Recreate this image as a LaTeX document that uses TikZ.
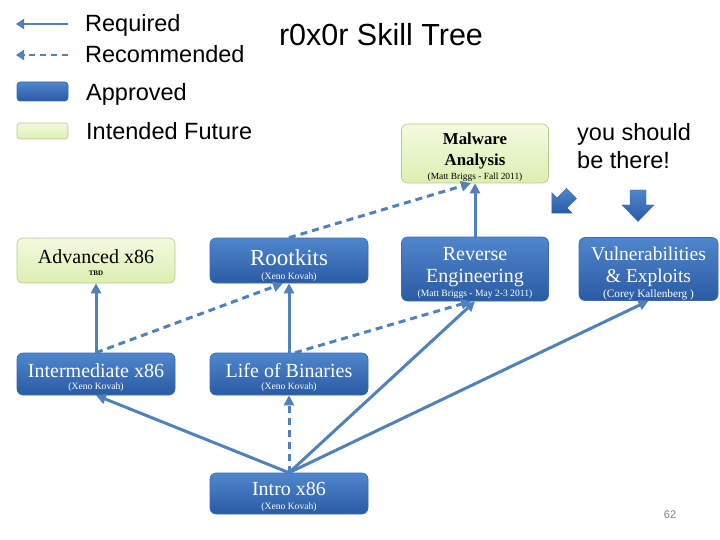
\documentclass[tikz,border=0pt]{standalone}
\usepackage{fontspec}
\setmainfont{Liberation Serif}
\newfontfamily\legsans{Liberation Sans}
\usetikzlibrary{arrows.meta,calc}
\definecolor{linkblue}{HTML}{4F81BD}
\definecolor{boxtop}{HTML}{4F86CC}
\definecolor{boxbot}{HTML}{2A5BA5}
\definecolor{boxedge}{HTML}{3A6AB2}
\definecolor{greentop}{HTML}{F2FADF}
\definecolor{greenbot}{HTML}{DCEFB0}
\definecolor{greenedge}{HTML}{B4CB8C}
\tikzset{
  bluebox/.style={rectangle, rounded corners=6pt, draw=boxedge, line width=0.6pt, top color=boxtop, bottom color=boxbot, inner sep=0pt},
  greenbox/.style={rectangle, rounded corners=6pt, draw=greenedge, line width=0.6pt, top color=greentop, bottom color=greenbot, inner sep=0pt},
  req/.style={draw=linkblue, line width=3pt, -{Triangle[length=10pt,width=10pt]}},
  rec/.style={req, dash pattern=on 7pt off 5pt},
  legreq/.style={draw=linkblue, line width=2.5pt, -{Triangle[length=8pt,width=10pt]}},
  legrec/.style={legreq, dash pattern=on 6pt off 5pt},
  maintxt/.style={anchor=base, inner sep=0pt, font=\fontsize{20}{22}\selectfont},
  subtxt/.style={anchor=base, inner sep=0pt, font=\fontsize{9.6}{10}\selectfont},
  legtxt/.style={anchor=base west, inner sep=0pt, font=\legsans\fontsize{23.5}{26}\selectfont},
  bigarrow/.style={top color=boxtop, bottom color=boxbot, draw=boxedge, line width=0.4pt}
}
\begin{document}
\begin{tikzpicture}[x=1pt,y=-1pt]
\useasboundingbox (0,0) rectangle (720,540);

% legend
\coordinate (lr1) at (68,24);
\coordinate (lr0) at (16,24);
\coordinate (ld1) at (68,55);
\coordinate (ld0) at (16,55);
\draw[legreq] (lr1) -- (lr0);
\draw[legrec] (ld1) -- (ld0);
\node[bluebox, rounded corners=3pt, minimum width=51pt, minimum height=19pt] (legapp) at (42.5,91.5) {};
\node[greenbox, rounded corners=3pt, minimum width=51pt, minimum height=16pt] (legfut) at (42.5,131) {};
\node[legtxt] (treq) at (85,32) {Required};
\node[legtxt] (trec) at (85,63) {Recommended};
\node[legtxt] (tapp) at (86,101) {Approved};
\node[legtxt] (tfut) at (86,140) {Intended Future};

% title
\node[anchor=base, inner sep=0pt, font=\legsans\fontsize{30.5}{33}\selectfont] (title) at (381,46) {r0x0r Skill Tree};

% you should be there
\node[legtxt] (ys1) at (577,141) {you should};
\node[legtxt] (ys2) at (577,169) {be there!};
\path[bigarrow] (630,190) -- (646,190) -- (646,205) -- (654,205) -- (638,221.5) -- (622,205) -- (630,205) -- cycle;
\begin{scope}[shift={(562,203)}, rotate=-45, scale=0.9]
\path[bigarrow] (-8,-15) -- (8,-15) -- (8,0) -- (16,0) -- (0,16) -- (-16,0) -- (-8,0) -- cycle;
\end{scope}

% boxes
\node[greenbox, minimum width=147pt, minimum height=59pt] (mal) at (475,153.5) {};
\node[greenbox, minimum width=158pt, minimum height=45pt] (adv) at (96,260.5) {};
\node[bluebox, minimum width=158pt, minimum height=45pt] (rk) at (289,260.5) {};
\node[bluebox, minimum width=147pt, minimum height=64pt] (re) at (475,269) {};
\node[bluebox, minimum width=139pt, minimum height=63pt] (vu) at (648.5,269) {};
\node[bluebox, minimum width=158pt, minimum height=42pt] (inter) at (96,374) {};
\node[bluebox, minimum width=158pt, minimum height=42pt] (life) at (289,374) {};
\node[bluebox, minimum width=158pt, minimum height=41pt] (intro) at (289,493.5) {};

% texts
\node[maintxt, font=\bfseries\fontsize{16.8}{18}\selectfont] (malt1) at (475,145) {Malware};
\node[maintxt, font=\bfseries\fontsize{16.8}{18}\selectfont] (malt2) at (475,165.5) {Analysis};
\node[subtxt, font=\fontsize{9.4}{10}\selectfont] (malt3) at (475,179.5) {(Matt Briggs - Fall 2011)};

\node[maintxt] (advt1) at (96,263) {Advanced x86};
\node[subtxt, font=\bfseries\fontsize{7}{8}\selectfont] (advt2) at (96,275) {TBD};

\begin{scope}[every node/.append style={text=white}]
\node[maintxt, font=\fontsize{23}{25}\selectfont] (rkt1) at (289,265) {Rootkits};
\node[subtxt] (rkt2) at (289,279) {(Xeno Kovah)};
\node[maintxt] (ret1) at (475,260) {Reverse};
\node[maintxt] (ret2) at (475,282.5) {Engineering};
\node[subtxt] (ret3) at (475,296.5) {(Matt Briggs - May 2-3 2011)};
\node[maintxt, font=\fontsize{19.5}{21}\selectfont] (vut1) at (648.5,260) {Vulnerabilities};
\node[maintxt, font=\fontsize{19.5}{21}\selectfont] (vut2) at (648.5,282.5) {\& Exploits};
\node[subtxt, font=\fontsize{11.3}{12}\selectfont] (vut3) at (648.5,297.5) {(Corey Kallenberg )};
\node[maintxt] (intert1) at (96,377) {Intermediate x86};
\node[subtxt] (intert2) at (96,389) {(Xeno Kovah)};
\node[maintxt] (lifet1) at (289,377) {Life of Binaries};
\node[subtxt] (lifet2) at (289,389) {(Xeno Kovah)};
\node[maintxt] (introt1) at (289,495) {Intro x86};
\node[subtxt] (introt2) at (289,509) {(Xeno Kovah)};
\end{scope}

% connectors
\draw[req] (intro.north) -- (inter.south);
\draw[rec] (intro.north) -- (life.south);
\draw[req] (intro.north) -- (re.south);
\draw[req] (intro.north) -- (vu.south);
\draw[req] (inter.north) -- (adv.south);
\draw[rec] (inter.north) -- ($(rk.south)+(-6,0)$);
\draw[req] (life.north) -- (rk.south);
\draw[rec] ($(life.north)+(6,0)$) -- ($(re.south)+(-4,0)$);
\draw[rec] (rk.north) -- ($(mal.south)+(-4,0)$);
\draw[req] (re.north) -- (mal.south);

% page number
\node[anchor=base, inner sep=0pt, text=black!50, font=\legsans\fontsize{11}{12}\selectfont] (pg) at (670,518) {62};
\end{tikzpicture}
\end{document}
